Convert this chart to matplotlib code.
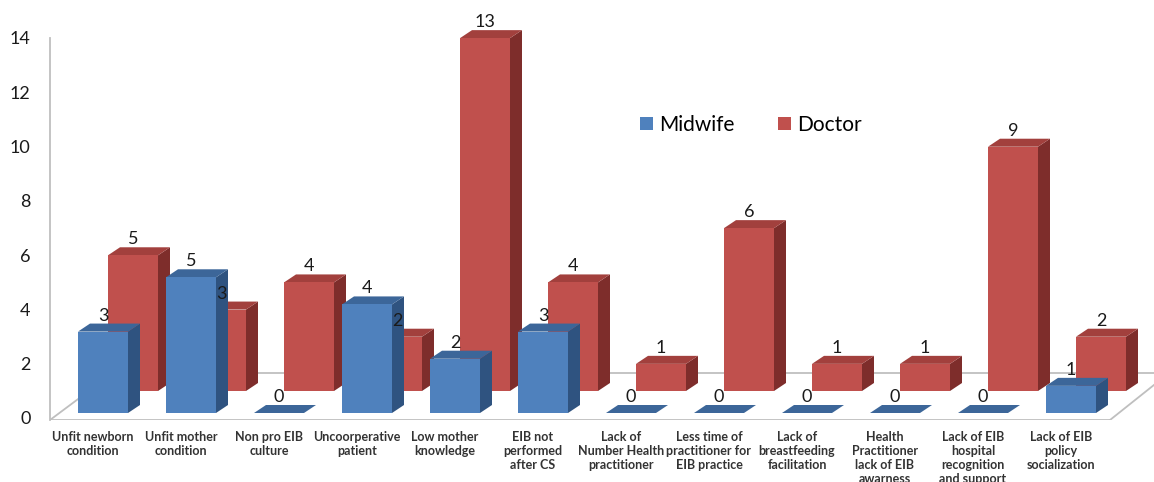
import matplotlib
matplotlib.use("Agg")
import matplotlib.pyplot as plt
from matplotlib.patches import Rectangle, Polygon, Patch

plt.rcParams["font.family"] = ["Lato", "DejaVu Sans"]

categories = [
    "Unfit newborn\ncondition",
    "Unfit mother\ncondition",
    "Non pro EIB\nculture",
    "Uncoorperative\npatient",
    "Low mother\nknowledge",
    "EIB not\nperformed\nafter CS",
    "Lack of\nNumber Health\npractitioner",
    "Less time of\npractitioner for\nEIB practice",
    "Lack of\nbreastfeeding\nfacilitation",
    "Health\nPractitioner\nlack of EIB\nawarness",
    "Lack of EIB\nhospital\nrecognition\nand support",
    "Lack of EIB\npolicy\nsocialization",
]
midwife = [3, 5, 0, 4, 2, 3, 0, 0, 0, 0, 0, 1]
doctor = [5, 3, 4, 2, 13, 4, 1, 6, 1, 1, 9, 2]

BLUE = ("#4F81BD", "#3C6699", "#2F5380")   # front, top, side
RED = ("#C0504D", "#A2403D", "#7E2D2B")

# pseudo-3D geometry (one category = 88 px, one unit = 27.14 px)
W = 50 / 88
DX = 12 / 88
DY = 8 / 27.14


def bar3d(ax, x0, base, h, cols):
    front, top, side = cols
    ax.add_patch(Polygon([(x0 + W, base), (x0 + W + DX, base + DY),
                          (x0 + W + DX, base + h + DY), (x0 + W, base + h)],
                         closed=True, fc=side, ec="none", clip_on=False))
    ax.add_patch(Polygon([(x0, base + h), (x0 + W, base + h),
                          (x0 + W + DX, base + h + DY), (x0 + DX, base + h + DY)],
                         closed=True, fc=top, ec="none", clip_on=False))
    if h > 0:
        ax.add_patch(Rectangle((x0, base), W, h, fc=front, ec="none", clip_on=False))
    ax.annotate(str(h), (x0 + W / 2, base + h + DY), xytext=(0, 0),
                textcoords="offset points", ha="center", va="bottom",
                fontsize=13, color="#1a1a1a", annotation_clip=False)


fig = plt.figure(figsize=(11.54, 4.82), dpi=100)
ax = fig.add_axes([50 / 1154, 62 / 482, 1104 / 1154, 382 / 482])
ax.set_xlim((50 - 103) / 88, (1154 - 103) / 88)
ax.set_ylim(-2 / 27.14, 14)

# floor
fl = dict(color="#BFBFBF", lw=1.3, zorder=0)
y_front, y_back = -2 / 27.14, 45 / 27.14
xl_f, xl_b = (50 - 103) / 88, (113 - 103) / 88
xr_f, xr_b = (1110 - 103) / 88, (1169 - 103) / 88
ax.plot([xl_f, xr_f], [y_front, y_front], **fl)
ax.plot([xl_b, xr_b], [y_back, y_back], **fl)
ax.plot([xl_f, xl_b], [y_front, y_back], **fl)
ax.plot([xr_f, xr_b], [y_front, y_back], **fl)

n = len(categories)
doc_base = 27 / 27.14
mid_base = 5 / 27.14
for i in range(n):
    bar3d(ax, i - 25 / 88 + 30 / 88, doc_base, doctor[i], RED)
for i in range(n):
    bar3d(ax, i - 25 / 88, mid_base, midwife[i], BLUE)

for s in ["top", "right", "bottom"]:
    ax.spines[s].set_visible(False)
ax.spines["left"].set_color("#BFBFBF")
ax.spines["left"].set_linewidth(1.3)

ax.set_yticks(range(0, 15, 2))
ax.tick_params(axis="y", length=0, pad=14, labelsize=13, labelcolor="#1a1a1a")
ax.set_xticks([i - 0.114 for i in range(n)])
ax.set_xticklabels(categories, fontsize=9, fontweight="bold", color="#333333",
                   linespacing=1.2, va="top")
ax.tick_params(axis="x", length=0, pad=8)

handles = [Patch(fc=BLUE[0], label="Midwife"), Patch(fc=RED[0], label="Doctor")]
fig.legend(handles=handles, loc="center", bbox_to_anchor=(751 / 1154, 1 - 125 / 482),
           ncol=2, frameon=False, fontsize=15, handlelength=0.6, handleheight=0.6,
           handletextpad=0.3, columnspacing=2.1)

fig.savefig("out.png", dpi=100)
